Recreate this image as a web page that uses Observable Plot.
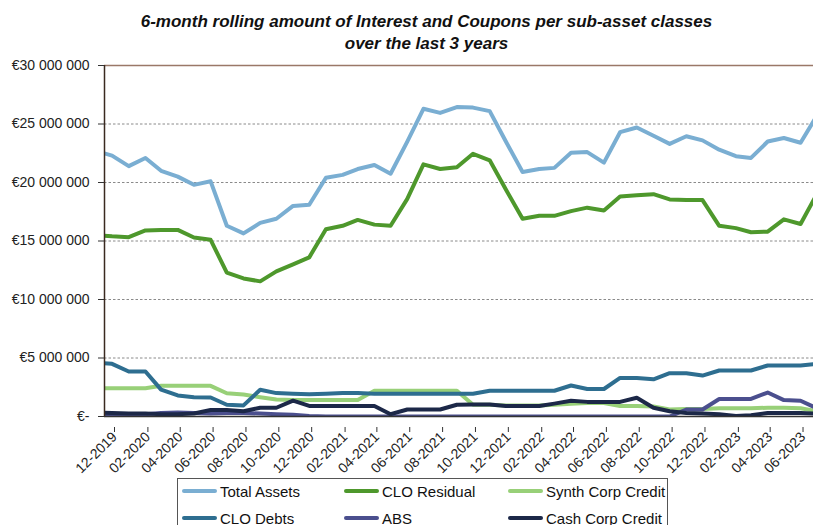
<!DOCTYPE html>
<html>
<head>
<meta charset="utf-8">
<script src="https://cdn.jsdelivr.net/npm/d3@7"></script>
<script src="https://cdn.jsdelivr.net/npm/@observablehq/plot@0.6"></script>
<style>
  html, body { margin: 0; padding: 0; background: #fff; width: 813px; height: 525px; overflow: hidden; }
  body { position: relative; font-family: "Liberation Sans", Arial, sans-serif; color: #222; }
  #title { position: absolute; left: 40px; width: 773px; top: 11px; text-align: center;
    font-family: "Liberation Sans Narrow", "Arial Narrow", "Liberation Sans", Arial, sans-serif;
    font-weight: bold; font-style: italic; font-size: 17px; line-height: 22px; color: #111; }
  #chart { position: absolute; left: 0; top: 55px; }
  #legend { position: absolute; left: 177px; top: 478px; width: 489px; height: 60px; border: 1px solid #555; background: #fff; }
  .item { position: absolute; height: 20px; display: flex; align-items: center; font-size: 15px; white-space: nowrap; color: #111; }
  .swatch { width: 35px; height: 4px; margin-right: 3px; border-radius: 2px; }
</style>
</head>
<body>
<div id="title">6-month rolling amount of Interest and Coupons per sub-asset classes<br>over the last 3 years</div>
<div id="chart"></div>
<div id="legend"></div>
<script>
// Months (data placed mid-month)
const months = ["11-2019","12-2019","01-2020","02-2020","03-2020","04-2020","05-2020","06-2020","07-2020","08-2020","09-2020","10-2020","11-2020","12-2020",
  "01-2021","02-2021","03-2021","04-2021","05-2021","06-2021","07-2021","08-2021","09-2021","10-2021","11-2021","12-2021",
  "01-2022","02-2022","03-2022","04-2022","05-2022","06-2022","07-2022","08-2022","09-2022","10-2022","11-2022","12-2022",
  "01-2023","02-2023","03-2023","04-2023","05-2023","06-2023","07-2023"];

const seriesNames = ["Total Assets","CLO Residual","Synth Corp Credit","CLO Debts","ABS","Cash Corp Credit"];
const seriesColors = ["#7AAED2","#4E982C","#98D078","#2E6E90","#4B4F8E","#1C2848"];

// Values in € millions
const totalAssets = [22.7,22.3,21.4,22.1,21.0,20.5,19.8,20.1,16.3,15.65,16.55,16.9,18.0,18.1,
  20.4,20.65,21.15,21.5,20.75,23.5,26.3,25.95,26.45,26.4,26.1,23.5,
  20.9,21.15,21.25,22.55,22.6,21.7,24.3,24.7,24.0,23.3,23.95,23.6,
  22.8,22.25,22.1,23.5,23.8,23.4,25.7];
const cloResidual = [15.5,15.4,15.33,15.9,15.95,15.95,15.3,15.1,12.3,11.8,11.55,12.4,13.0,13.6,
  16.0,16.3,16.8,16.4,16.3,18.6,21.55,21.15,21.3,22.45,21.9,19.4,
  16.9,17.15,17.15,17.55,17.85,17.6,18.8,18.9,19.0,18.55,18.5,18.5,
  16.3,16.1,15.75,15.8,16.85,16.45,19.0];
const synthCorpCredit = [2.42,2.42,2.42,2.42,2.62,2.62,2.62,2.62,1.99,1.88,1.65,1.45,1.4,1.4,
  1.42,1.42,1.42,2.2,2.2,2.2,2.2,2.2,2.2,1.0,1.0,0.95,
  0.95,0.95,1.0,1.1,1.15,1.15,0.9,0.9,0.85,0.6,0.65,0.65,
  0.7,0.7,0.7,0.75,0.75,0.7,0.45];
const cloDebts = [4.6,4.5,3.85,3.85,2.3,1.8,1.65,1.62,1.0,0.95,2.28,2.0,1.95,1.9,
  1.95,2.0,2.0,1.95,1.95,1.95,1.95,1.95,1.95,1.95,2.2,2.2,
  2.2,2.2,2.2,2.65,2.35,2.35,3.3,3.3,3.18,3.7,3.7,3.5,
  3.93,3.93,3.93,4.36,4.36,4.36,4.5];
const abs = [0.2,0.2,0.15,0.2,0.3,0.35,0.3,0.25,0.3,0.3,0.25,0.2,0.15,0.05,
  0,0,0,0,0,0,0,0,0,0,0,0,
  0,0,0,0,0,0,0,0,0,0,0.6,0.6,
  1.5,1.5,1.5,2.05,1.4,1.35,0.7];
const cashCorpCredit = [0.35,0.3,0.25,0.25,0.2,0.2,0.25,0.55,0.55,0.45,0.75,0.75,1.35,0.9,
  0.9,0.9,0.9,0.9,0.2,0.6,0.6,0.6,1.0,1.03,1.03,0.9,
  0.9,0.9,1.1,1.35,1.25,1.25,1.25,1.6,0.75,0.45,0.3,0.25,
  0.2,0.05,0.1,0.3,0.3,0.3,0.25];

const xTickLabels = ["12-2019","02-2020","04-2020","06-2020","08-2020","10-2020","12-2020","02-2021","04-2021","06-2021",
  "08-2021","10-2021","12-2021","02-2022","04-2022","06-2022","08-2022","10-2022","12-2022","02-2023","04-2023","06-2023"];
const yTicks = [0, 5e6, 10e6, 15e6, 20e6, 25e6, 30e6];
const gridTicks = [5e6, 10e6, 15e6, 20e6, 25e6];

const seriesValues = [totalAssets, cloResidual, synthCorpCredit, cloDebts, abs, cashCorpCredit];

const midMonth = s => { const [m, y] = s.split("-"); return new Date(Date.UTC(+y, +m - 1, 15)); };
const firstOfMonth = s => { const [m, y] = s.split("-"); return new Date(Date.UTC(+y, +m - 1, 1)); };

const data = [];
seriesNames.forEach((name, si) => {
  seriesValues[si].forEach((v, i) => data.push({series: name, date: midMonth(months[i]), value: v * 1e6}));
});

const xStart = firstOfMonth("12-2019");
const xEnd = new Date(Date.UTC(2023, 6, 9));
const fmtNum = d3.format(",");
const yFormat = d => d === 0 ? "€-" : "€" + fmtNum(d).replace(/,/g, " ");

const chart = Plot.plot({
  width: 813,
  height: 420,
  marginLeft: 104,
  marginRight: 0,
  marginTop: 10,
  marginBottom: 59,
  style: {fontFamily: '"Liberation Sans", Arial, sans-serif', fontSize: "14px", color: "#222", background: "#fff"},
  x: {type: "utc", domain: [xStart, xEnd]},
  y: {domain: [0, 30e6]},
  color: {domain: seriesNames, range: seriesColors},
  marks: [
    Plot.ruleY(gridTicks, {stroke: "#8a8a8a", strokeDasharray: "2.5,2", strokeWidth: 1}),
    Plot.ruleY([30e6], {stroke: "#9a7868", strokeWidth: 1.5}),
    Plot.line(data, {x: "date", y: "value", z: "series", stroke: "series", strokeWidth: 4, clip: true, curve: "linear"}),
    Plot.ruleY([0], {stroke: "#333", strokeWidth: 1.5}),
    Plot.ruleX([xStart], {stroke: "#3a2a20", strokeWidth: 1.5}),
    Plot.axisY({ticks: yTicks, tickFormat: yFormat, tickSize: 6, tickPadding: 9, fontSize: 14, label: null, stroke: "#333"}),
    Plot.axisX({ticks: xTickLabels.map(firstOfMonth), tickFormat: d3.utcFormat("%m-%Y"), tickRotate: -45, tickSize: 5, tickPadding: 2, fontSize: 14, label: null, dx: 10, dy: 11, stroke: "#333"})
  ]
});
document.getElementById("chart").appendChild(chart);

// Legend
const legend = document.getElementById("legend");
const colX = [4, 166, 330];
const rowY = [2, 29];
seriesNames.forEach((name, i) => {
  const item = document.createElement("div");
  item.className = "item";
  item.style.left = colX[i % 3] + "px";
  item.style.top = rowY[Math.floor(i / 3)] + "px";
  const sw = document.createElement("span");
  sw.className = "swatch";
  sw.style.background = seriesColors[i];
  const tx = document.createElement("span");
  tx.textContent = name;
  item.appendChild(sw);
  item.appendChild(tx);
  legend.appendChild(item);
});
</script>
</body>
</html>
